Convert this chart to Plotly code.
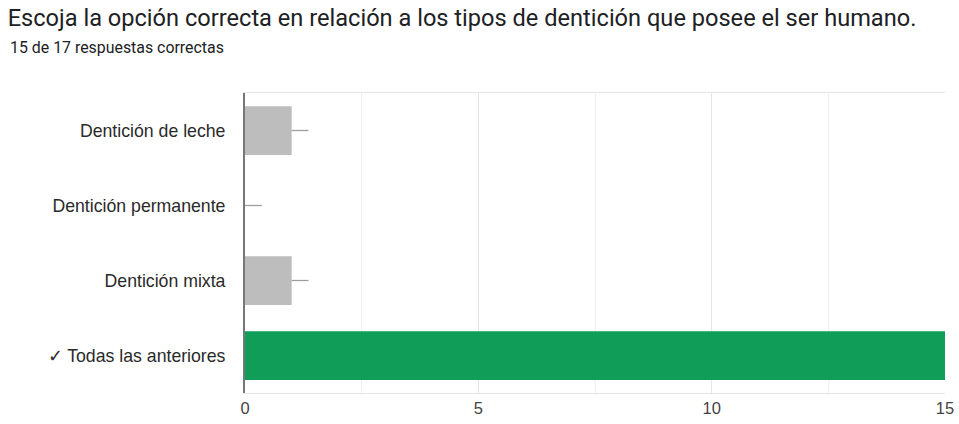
import plotly.graph_objects as go

options = ["Dentición de leche", "Dentición permanente", "Dentición mixta", "✓ Todas las anteriores"]
counts = [1, 0, 1, 15]
bar_colors = ["#bdbdbd", "#bdbdbd", "#bdbdbd", "#0f9d58"]
stub_len = [0.36, 0.36, 0.36, 0]

fig = go.Figure()
fig.add_trace(go.Bar(
    y=options, x=counts, orientation="h",
    marker=dict(color=bar_colors, line=dict(width=0)),
    width=0.65,
    error_x=dict(type="data", symmetric=False, array=stub_len, arrayminus=[0, 0, 0, 0],
                 color="#9e9e9e", thickness=1.3, width=0),
    hoverinfo="x+y",
))

fig.update_layout(
    width=959, height=424,
    margin=dict(l=245, r=14, t=93, b=31, autoexpand=False),
    paper_bgcolor="white", plot_bgcolor="white",
    font=dict(family="Liberation Sans, Arial, sans-serif", color="#222222", size=16),
    showlegend=False,
    title=dict(text="Escoja la opción correcta en relación a los tipos de dentición que posee el ser humano.",
               x=0.008, xref="container", xanchor="left",
               y=0.958, yref="container", yanchor="middle",
               font=dict(family="Roboto, sans-serif", size=23.6, color="#202124")),
    annotations=[dict(text="15 de 17 respuestas correctas", xref="paper", yref="paper",
                      x=-0.339, y=1.153, xanchor="left", yanchor="middle", showarrow=False,
                      font=dict(family="Roboto, sans-serif", size=15.9, color="#202124"))],
)
fig.update_xaxes(range=[0, 15], dtick=5, showgrid=True, gridcolor="#e6e6e6", gridwidth=1,
                 minor=dict(dtick=2.5, showgrid=True, gridcolor="#f0f0f0"),
                 zeroline=False, showline=True, linecolor="#e6e6e6", mirror=True,
                 tickfont=dict(size=16.5, color="#444444"), ticks="", automargin=False)
fig.update_yaxes(autorange="reversed", showline=True, linecolor="#777777", linewidth=2,
                 tickfont=dict(size=17.7, color="#2a2a2a"), ticks="", ticklabelstandoff=14,
                 automargin=False)

# drop the browser's default body margin so the figure sits at the page corner
fig.write_html("out.html", config={"displayModeBar": False},
               post_script="document.body.style.margin='0';")
